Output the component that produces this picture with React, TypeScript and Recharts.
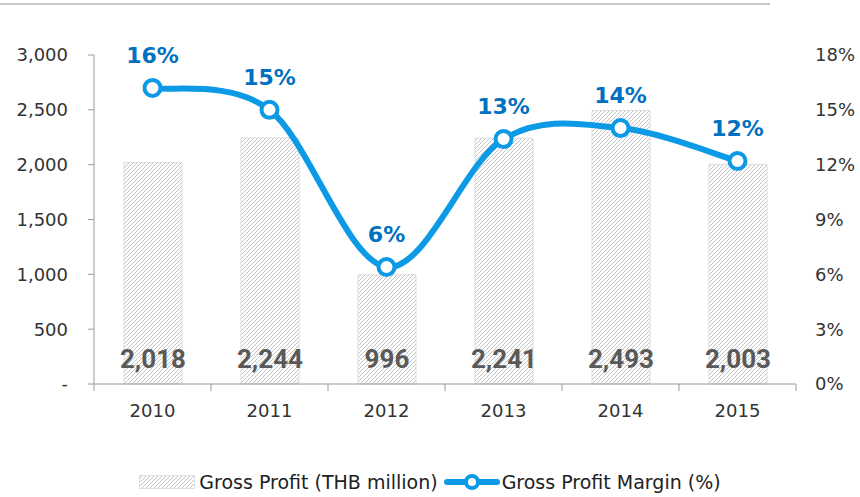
import React from 'react'
import {
  ComposedChart,
  Bar,
  Line,
  XAxis,
  YAxis,
  Legend,
  LabelList
} from 'recharts'

const years = ['2010', '2011', '2012', '2013', '2014', '2015']
const grossProfit = [2018, 2244, 996, 2241, 2493, 2003]
const grossMargin = [16.2, 15.0, 6.4, 13.4, 14.0, 12.2]
const profitTicks = [0, 500, 1000, 1500, 2000, 2500, 3000]
const marginTicks = [0, 3, 6, 9, 12, 15, 18]

const W = 860
const H = 497
const LEFT_W = 94
const RIGHT_W = 64
const STEP = (W - LEFT_W - RIGHT_W) / years.length

const LINE_BLUE = '#0C9AE6'
const LABEL_BLUE = '#0070C0'
const AXIS_GREY = '#9a9a9a'
const FONT = '"DejaVu Sans", sans-serif'

// smooth line roughly like excel's "smoothed line" (catmull-rom)
const excelSmooth = (context: any) => {
  let pts: number[][] = []
  return {
    areaStart() {},
    areaEnd() {},
    lineStart() {
      pts = []
    },
    point(x: number, y: number) {
      pts.push([+x, +y])
    },
    lineEnd() {
      if (!pts.length) return
      context.moveTo(pts[0][0], pts[0][1])
      for (let i = 0; i < pts.length - 1; i++) {
        const p0 = pts[i - 1] || pts[i]
        const p1 = pts[i]
        const p2 = pts[i + 1]
        const p3 = pts[i + 2] || p2
        context.bezierCurveTo(
          p1[0] + (p2[0] - p0[0]) / 6,
          p1[1] + (p2[1] - p0[1]) / 6,
          p2[0] - (p3[0] - p1[0]) / 6,
          p2[1] - (p3[1] - p1[1]) / 6,
          p2[0],
          p2[1]
        )
      }
    }
  }
}

const XTick = (props: any) => {
  const { x, y, payload, index } = props
  return (
    <g>
      <line x1={x - STEP / 2} x2={x - STEP / 2} y1={y} y2={y + 7} stroke={AXIS_GREY} />
      {index === years.length - 1 && (
        <line x1={x + STEP / 2} x2={x + STEP / 2} y1={y} y2={y + 7} stroke={AXIS_GREY} />
      )}
      <text x={x} y={y + 33} textAnchor="middle" fontSize={18} fontFamily={FONT} fill="#333">
        {payload.value}
      </text>
    </g>
  )
}

const BarValue = (props: any) => {
  const { x, y, width, height, value } = props
  return (
    <text
      x={x + width / 2}
      y={y + height - 16}
      textAnchor="middle"
      fontSize={26}
      fontWeight="bold"
      fontFamily="Roboto, sans-serif"
      fill="#595959"
    >
      {value.toLocaleString('en-US')}
    </text>
  )
}

const MarginValue = (props: any) => {
  const { x, y, value } = props
  return (
    <text
      x={x}
      y={y - 25}
      textAnchor="middle"
      fontSize={22}
      fontWeight="bold"
      fontFamily={FONT}
      fill={LABEL_BLUE}
    >
      {Math.round(value)}%
    </text>
  )
}

const LegendBox = () => (
  <div
    style={{
      display: 'flex',
      justifyContent: 'center',
      alignItems: 'center',
      fontFamily: FONT,
      fontSize: 19,
      color: '#222'
    }}
  >
    <svg width={56} height={14} style={{ marginRight: 4 }}>
      <defs>
        <pattern id="hatchLegend" patternUnits="userSpaceOnUse" width={4} height={4}>
          <rect width={4} height={4} fill="#fff" />
          <path d="M-1,1 l2,-2 M0,4 l4,-4 M3,5 l2,-2" stroke="#c4c4c4" strokeWidth={1} />
        </pattern>
      </defs>
      <rect x={0.5} y={0.5} width={55} height={13} fill="url(#hatchLegend)" stroke="#e0e0e0" />
    </svg>
    <span style={{ marginRight: 6 }}>Gross Profit (THB million)</span>
    <svg width={56} height={16} style={{ marginRight: 2 }}>
      <line x1={3} x2={53} y1={8} y2={8} stroke={LINE_BLUE} strokeWidth={6} strokeLinecap="round" />
      <circle cx={28} cy={8} r={6} fill="#fff" stroke={LINE_BLUE} strokeWidth={4} />
    </svg>
    <span>Gross Profit Margin (%)</span>
  </div>
)

export default function App() {
  const data = years.map((year, i) => ({
    year,
    profit: grossProfit[i],
    margin: grossMargin[i]
  }))

  return (
    <div style={{ position: 'absolute', left: 0, top: 0, width: W, height: H, background: '#fff' }}>
      <div style={{ position: 'absolute', left: 0, top: 3, width: 770, height: 2, background: '#c8c8c8' }} />
      <ComposedChart
        width={W}
        height={H}
        data={data}
        margin={{ top: 55, right: 0, bottom: 53, left: 0 }}
        barSize={58}
      >
        <defs>
          <pattern id="hatch" patternUnits="userSpaceOnUse" width={4} height={4}>
            <rect width={4} height={4} fill="#fff" />
            <path d="M-1,1 l2,-2 M0,4 l4,-4 M3,5 l2,-2" stroke="#c4c4c4" strokeWidth={1} />
          </pattern>
        </defs>
        <XAxis
          dataKey="year"
          height={30}
          axisLine={{ stroke: AXIS_GREY }}
          tickLine={false}
          tickSize={0}
          tickMargin={0}
          tick={<XTick />}
          interval={0}
        />
        <YAxis
          yAxisId="left"
          width={LEFT_W}
          domain={[0, 3000]}
          ticks={profitTicks}
          interval={0}
          axisLine={{ stroke: AXIS_GREY }}
          tickLine={{ stroke: AXIS_GREY }}
          tickSize={6}
          tickMargin={20}
          tickFormatter={(v: number) => (v === 0 ? '-' : v.toLocaleString('en-US'))}
          tick={{ fontSize: 18, fontFamily: FONT, fill: '#333' }}
        />
        <YAxis
          yAxisId="right"
          orientation="right"
          width={RIGHT_W}
          domain={[0, 18]}
          ticks={marginTicks}
          interval={0}
          axisLine={false}
          tickLine={false}
          tickSize={6}
          tickMargin={13}
          tickFormatter={(v: number) => `${v}%`}
          tick={{ fontSize: 18, fontFamily: FONT, fill: '#333', textAnchor: 'start' }}
        />
        <Legend
          verticalAlign="bottom"
          wrapperStyle={{ top: 471, height: 30 }}
          content={() => <LegendBox />}
        />
        <Bar
          yAxisId="left"
          dataKey="profit"
          fill="url(#hatch)"
          stroke="#dcdcdc"
          strokeWidth={1}
          isAnimationActive={false}
        >
          <LabelList dataKey="profit" content={<BarValue />} />
        </Bar>
        <Line
          yAxisId="right"
          dataKey="margin"
          type={excelSmooth as any}
          stroke={LINE_BLUE}
          strokeWidth={6}
          dot={{ r: 8, fill: '#fff', stroke: LINE_BLUE, strokeWidth: 4 }}
          activeDot={false}
          isAnimationActive={false}
        >
          <LabelList dataKey="margin" content={<MarginValue />} />
        </Line>
      </ComposedChart>
    </div>
  )
}
